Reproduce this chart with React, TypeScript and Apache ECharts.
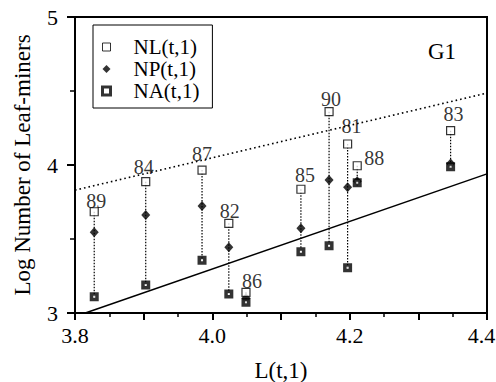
import React, { useEffect, useRef } from "react";
import * as echarts from "echarts";

// ---- data ----
const years = ["89", "84", "87", "82", "86", "85", "90", "81", "88", "83"];
const lValues = [3.828, 3.903, 3.985, 4.024, 4.049, 4.129, 4.17, 4.197, 4.211, 4.347];
const nlValues = [3.684, 3.887, 3.966, 3.606, 3.14, 3.836, 4.36, 4.142, 3.995, 4.232];
const npValues = [3.545, 3.662, 3.723, 3.444, 3.1, 3.572, 3.899, 3.849, 3.89, 4.01];
const naValues = [3.11, 3.189, 3.356, 3.128, 3.072, 3.414, 3.455, 3.306, 3.88, 3.989];
const upperLine = [
  [3.8, 3.83],
  [4.4, 4.486],
];
const lowerLine = [
  [3.815, 3.0],
  [4.4, 3.94],
];
const xTicks = { min: 3.8, max: 4.4, interval: 0.1 };
const yTicks = { min: 3, max: 5, interval: 1 };

// label placement (styling only): shift of the label centre from the marker centre
const labelOffsets = [
  [2, -10],
  [-2, -14],
  [0, -15],
  [1, -12],
  [6, -11],
  [4, -14],
  [2, -12],
  [4, -17],
  [17, -7],
  [3, -16],
];

const FONT = '"Liberation Serif", "Times New Roman", serif';

export default function App() {
  const ref = useRef<HTMLDivElement>(null);

  useEffect(() => {
    if (!ref.current) return;
    const chart = echarts.init(ref.current, null, { renderer: "svg" });

    const LABEL_SIZE = 20;
    const nlData = lValues.map((x, i) => ({
      value: [x, nlValues[i]],
      label: {
        show: true,
        formatter: years[i],
        position: "top",
        distance: 0,
        offset: [labelOffsets[i][0], labelOffsets[i][1] + 4 + LABEL_SIZE / 2],
        color: "#000",
        lineHeight: LABEL_SIZE,
        fontFamily: FONT,
        fontSize: LABEL_SIZE,
      },
    }));
    const npData = lValues.map((x, i) => [x, npValues[i]]);
    const naData = lValues.map((x, i) => [x, naValues[i]]);
    const connData = lValues.map((x, i) => [x, nlValues[i], naValues[i]]);

    chart.setOption({
      animation: false,
      backgroundColor: "#fff",
      grid: {
        left: 75,
        right: 9,
        top: 17,
        bottom: 69,
        show: true,
        borderColor: "#000",
        borderWidth: 2,
        containLabel: false,
        outerBoundsMode: "none",
      },
      legend: {
        show: true,
        left: 93,
        top: 25,
        orient: "vertical",
        data: [
          { name: "NL(t,1)", itemStyle: { color: "#fff", borderColor: "#000", borderWidth: 1 } },
          { name: "NP(t,1)", itemStyle: { color: "#000", borderWidth: 0 } },
          { name: "NA(t,1)", itemStyle: { color: "#fff", borderColor: "#000", borderWidth: 3 } },
        ],
        itemWidth: 8,
        itemHeight: 8,
        itemGap: 0,
        padding: [11, 13, 6, 8],
        borderColor: "#000",
        borderWidth: 1,
        backgroundColor: "#fff",
        textStyle: {
          color: "#000",
          fontFamily: FONT,
          fontSize: 21,
          lineHeight: 22,
          padding: [0, 0, 0, 18],
        },
        selectedMode: false,
      },
      xAxis: {
        type: "value",
        min: xTicks.min,
        max: xTicks.max,
        interval: xTicks.interval,
        name: "L(t,1)",
        nameLocation: "middle",
        nameGap: 46,
        nameMoveOverlap: false,
        nameTextStyle: { color: "#000", fontFamily: FONT, fontSize: 23 },
        axisLine: { show: true, onZero: false, lineStyle: { color: "#000", width: 2 } },
        axisTick: { show: true, inside: false, length: 7, lineStyle: { color: "#000", width: 2 } },
        minorTick: { show: true, splitNumber: 2, length: 4, lineStyle: { color: "#000", width: 1.5 } },
        splitLine: { show: false },
        axisLabel: {
          color: "#000",
          fontFamily: FONT,
          fontSize: 22,
          margin: 11,
          showMinLabel: true,
          showMaxLabel: true,
          hideOverlap: false,
          formatter: (v: number) => {
            if (Math.round(v * 10) % 2 !== 0) return "";
            if (Math.abs(v - xTicks.max) < 1e-6) return "{m|" + v.toFixed(1) + "}";
            return v.toFixed(1);
          },
          rich: {
            m: { color: "#000", fontFamily: FONT, fontSize: 22, padding: [0, 11, 0, 0] },
          },
        },
      },
      yAxis: {
        type: "value",
        min: yTicks.min,
        max: yTicks.max,
        interval: yTicks.interval,
        name: "Log Number of Leaf-miners",
        nameLocation: "middle",
        nameGap: 41,
        nameMoveOverlap: false,
        nameTextStyle: { color: "#000", fontFamily: FONT, fontSize: 23 },
        axisLine: { show: true, onZero: false, lineStyle: { color: "#000", width: 2 } },
        axisTick: { show: true, inside: false, length: 8, lineStyle: { color: "#000", width: 2 } },
        minorTick: { show: true, splitNumber: 2, length: 5, lineStyle: { color: "#000", width: 1.5 } },
        splitLine: { show: false },
        axisLabel: {
          color: "#000",
          fontFamily: FONT,
          fontSize: 22,
          margin: 17,
          showMinLabel: true,
          showMaxLabel: true,
        },
      },
      graphic: [
        {
          type: "text",
          x: 442,
          y: 51,
          style: {
            text: "G1",
            fill: "#000",
            font: `23px ${FONT}`,
            align: "center",
            verticalAlign: "middle",
            textAlign: "center",
            textVerticalAlign: "middle",
          },
        },
      ],
      series: [
        {
          type: "line",
          name: "upper",
          data: upperLine,
          symbol: "none",
          lineStyle: { color: "#000", width: 1.6, type: [1.6, 3] },
          z: 1,
          silent: true,
        },
        {
          type: "line",
          name: "lower",
          data: lowerLine,
          symbol: "none",
          lineStyle: { color: "#000", width: 1.5, type: "solid" },
          z: 1,
          silent: true,
        },
        {
          type: "custom",
          name: "conn",
          data: connData,
          z: 2,
          silent: true,
          renderItem: (params: any, api: any) => {
            const p1 = api.coord([api.value(0), api.value(1)]);
            const p2 = api.coord([api.value(0), api.value(2)]);
            return {
              type: "line",
              shape: { x1: p1[0], y1: p1[1], x2: p2[0], y2: p2[1] },
              style: { stroke: "#000", lineWidth: 1.2, lineDash: [1.5, 1.5] },
            };
          },
        },
        {
          type: "scatter",
          name: "NP(t,1)",
          data: npData,
          symbol: "diamond",
          symbolSize: [9, 10],
          itemStyle: { color: "#000" },
          z: 3,
        },
        {
          type: "scatter",
          name: "NA(t,1)",
          data: naData,
          symbol: "rect",
          symbolSize: 5.5,
          itemStyle: { color: "#fff", borderColor: "#000", borderWidth: 3.5 },
          z: 4,
        },
        {
          type: "scatter",
          name: "NL(t,1)",
          data: nlData,
          symbol: "rect",
          symbolSize: 8,
          itemStyle: { color: "#fff", borderColor: "#000", borderWidth: 1.2 },
          z: 5,
        },
      ],
    });

    return () => chart.dispose();
  }, []);

  return (
    <div
      ref={ref}
      style={{ position: "absolute", left: 0, top: 0, width: 496, height: 382, background: "#fff" }}
    />
  );
}
